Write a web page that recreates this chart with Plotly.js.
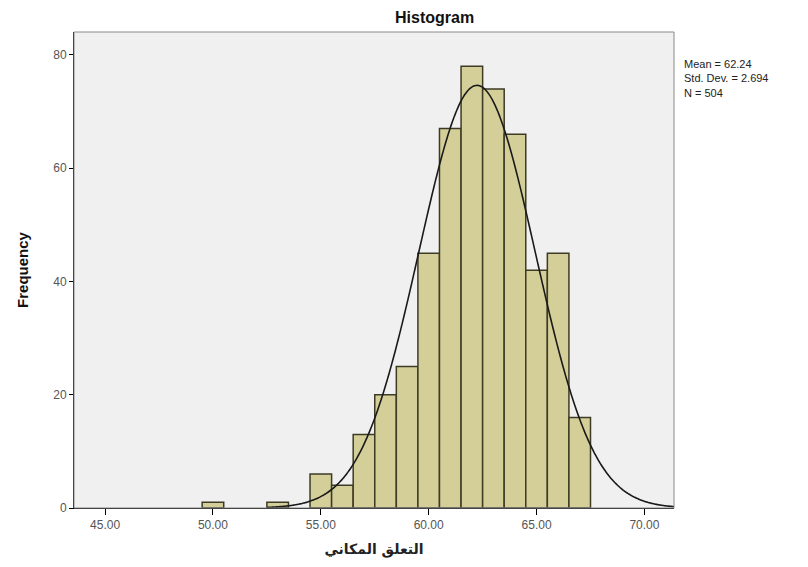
<!DOCTYPE html>
<html>
<head>
<meta charset="utf-8">
<script src="https://cdn.plot.ly/plotly-3.0.1.min.js"></script>
<style>html,body{margin:0;padding:0;background:#fff}#chart{width:808px;height:567px}</style>
</head>
<body>
<div id="chart"></div>
<script>
// Histogram bins (centers) and frequencies
var binCenters = [50, 53, 55, 56, 57, 58, 59, 60, 61, 62, 63, 64, 65, 66, 67];
var frequencies = [1, 1, 6, 4, 13, 20, 25, 45, 67, 78, 74, 66, 42, 45, 16];
var binWidth = 1;

// Summary statistics shown in the legend
var statMean = 62.24;
var statSD = 2.694;
var statN = 504;

// Axis ticks
var xTickVals = [45, 50, 55, 60, 65, 70];
var xTickText = ["45.00", "50.00", "55.00", "60.00", "65.00", "70.00"];
var yTickVals = [0, 20, 40, 60, 80];

// Normal curve fitted from the reported mean / SD / N
var curveX = [], curveY = [];
for (var i = 0; i <= 300; i++) {
  var xv = 52.5 + (71.37 - 52.5) * i / 300;
  var z = (xv - statMean) / statSD;
  curveX.push(xv);
  curveY.push(statN * binWidth * Math.exp(-0.5 * z * z) / (statSD * Math.sqrt(2 * Math.PI)));
}

var traces = [
  {
    type: 'bar', x: binCenters, y: frequencies, width: binWidth,
    marker: {color: '#d4cf98', line: {color: '#3d3b26', width: 1.5}},
    hoverinfo: 'x+y'
  },
  {
    type: 'scatter', mode: 'lines', x: curveX, y: curveY,
    line: {color: '#1a1a1a', width: 1.6, shape: 'spline'},
    hoverinfo: 'skip'
  }
];

var fontFam = 'Liberation Sans, Arial, sans-serif';
var layout = {
  width: 808, height: 567,
  margin: {l: 74, r: 134, t: 32, b: 59},
  paper_bgcolor: '#ffffff',
  plot_bgcolor: '#f0f0f0',
  showlegend: false,
  bargap: 0,
  font: {family: fontFam, size: 11, color: '#444'},
  xaxis: {
    range: [43.56, 71.37], tickvals: xTickVals, ticktext: xTickText,
    ticks: 'outside', ticklen: 6, tickwidth: 1, tickcolor: '#000',
    showline: true, linecolor: '#000', linewidth: 1,
    showgrid: false, zeroline: false,
    tickfont: {family: fontFam, size: 12, color: '#555'},
    title: {text: 'التعلق المكاني', font: {family: 'DejaVu Sans, sans-serif', size: 14, color: '#222', weight: 'bold'}, standoff: 12}
  },
  yaxis: {
    range: [0, 84.06], tickvals: yTickVals,
    ticks: 'outside', ticklen: 4, tickwidth: 1, tickcolor: '#000',
    showline: true, linecolor: '#000', linewidth: 1,
    showgrid: false, zeroline: false,
    tickfont: {family: fontFam, size: 12, color: '#555'},
    title: {text: 'Frequency', font: {family: 'Liberation Sans Narrow, Liberation Sans, Arial', size: 15, color: '#111', weight: 'bold'}, standoff: 20}
  },
  shapes: [
    {type: 'rect', xref: 'paper', yref: 'paper', x0: 0, x1: 1, y0: 0, y1: 1,
     line: {color: '#8a8a8a', width: 1}, layer: 'above', fillcolor: 'rgba(0,0,0,0)'}
  ],
  annotations: [
    {text: '<b>Histogram</b>', xref: 'paper', yref: 'paper', x: 0.6, y: 1, yshift: 4,
     xanchor: 'center', yanchor: 'bottom', showarrow: false,
     font: {family: fontFam, size: 16, color: '#111'}},
    {text: 'Mean = ' + statMean.toFixed(2) + '<br>Std. Dev. = ' + statSD.toFixed(3) + '<br>N = ' + statN,
     xref: 'paper', yref: 'paper', x: 1, xshift: 8, y: 0.95, xanchor: 'left', yanchor: 'top',
     align: 'left', showarrow: false,
     font: {family: fontFam, size: 11, color: '#222'}}
  ]
};

Plotly.newPlot('chart', traces, layout, {displayModeBar: false, staticPlot: true});
</script>
</body>
</html>
